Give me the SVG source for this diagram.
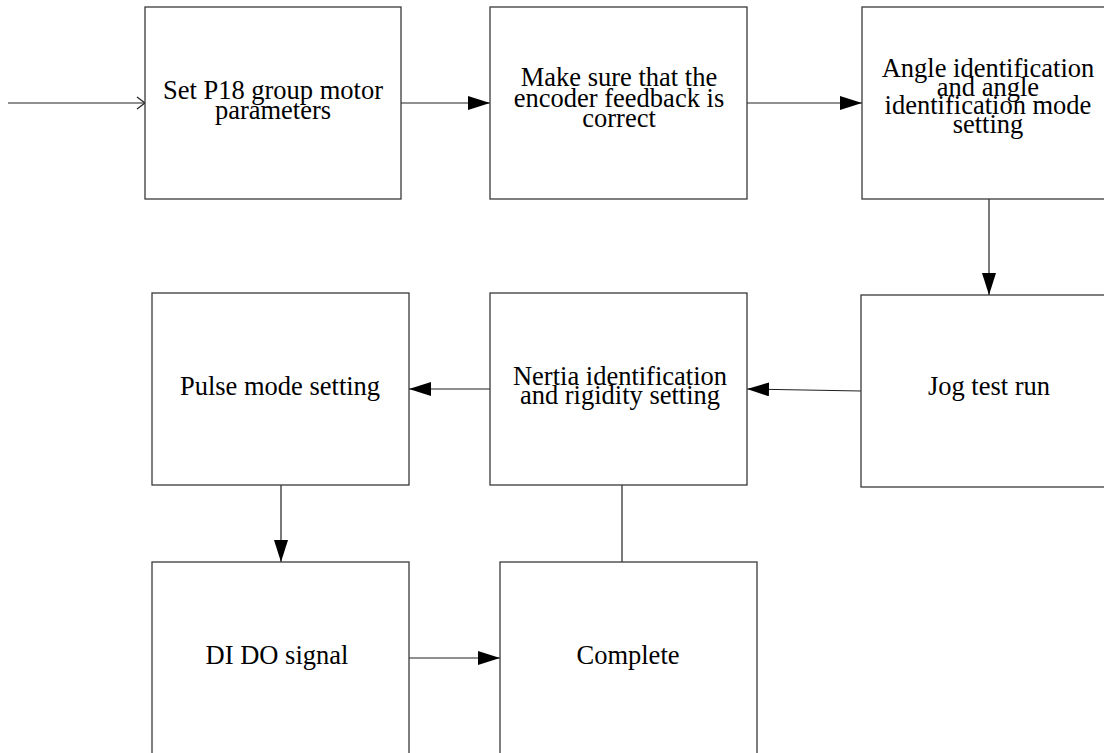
<svg xmlns="http://www.w3.org/2000/svg" width="1104" height="753" viewBox="0 0 1104 753">
  <style>
    .box { fill: #ffffff; stroke: #3a3a3a; stroke-width: 1.3; }
    .lbl { font-family: "Liberation Serif", "Times New Roman", serif; font-size: 26.5px; fill: #000000; text-anchor: middle; }
    .wire { fill: none; stroke: #202020; stroke-width: 1.2; }
  </style>
  <defs>
    <marker id="arrow" viewBox="0 0 22 14" refX="22" refY="7" markerWidth="22" markerHeight="14" markerUnits="userSpaceOnUse" orient="auto">
      <path d="M0,0 L22,7 L0,14 Z" fill="#000000"/>
    </marker>
    <marker id="open" viewBox="0 0 10 14" refX="9" refY="7" markerWidth="10" markerHeight="14" markerUnits="userSpaceOnUse" orient="auto">
      <path d="M1,1 L9,7 L1,13" fill="none" stroke="#202020" stroke-width="1.2"/>
    </marker>
  </defs>

  <rect width="1104" height="753" fill="#ffffff"/>

  <g id="connectors">
    <line class="wire" x1="8" y1="103" x2="145" y2="103" marker-end="url(#open)"/>
    <line class="wire" x1="401" y1="103" x2="490" y2="103" marker-end="url(#arrow)"/>
    <line class="wire" x1="747" y1="103" x2="862" y2="103" marker-end="url(#arrow)"/>
    <line class="wire" x1="989" y1="199" x2="989" y2="295" marker-end="url(#arrow)"/>
    <line class="wire" x1="861" y1="391" x2="747" y2="389" marker-end="url(#arrow)"/>
    <line class="wire" x1="490" y1="389" x2="409" y2="389" marker-end="url(#arrow)"/>
    <line class="wire" x1="281" y1="485" x2="281" y2="562" marker-end="url(#arrow)"/>
    <line class="wire" x1="409" y1="658" x2="500" y2="658" marker-end="url(#arrow)"/>
    <line class="wire" x1="622" y1="485" x2="622" y2="562"/>
  </g>

  <g id="set-p18">
    <rect class="box" x="145" y="7" width="256" height="192"/>
    <text class="lbl" x="273" y="98.5">Set P18 group motor</text>
    <text class="lbl" x="273" y="118.5">parameters</text>
  </g>

  <g id="encoder-check">
    <rect class="box" x="490" y="7" width="257" height="192"/>
    <text class="lbl" x="619" y="86">Make sure that the</text>
    <text class="lbl" x="619" y="106.5">encoder feedback is</text>
    <text class="lbl" x="619" y="127">correct</text>
  </g>

  <g id="angle-identification">
    <rect class="box" x="862" y="7" width="256" height="192"/>
    <text class="lbl" x="988" y="77">Angle identification</text>
    <text class="lbl" x="988" y="95.5">and angle</text>
    <text class="lbl" x="988" y="114">identification mode</text>
    <text class="lbl" x="988" y="132.5">setting</text>
  </g>

  <g id="jog-test">
    <rect class="box" x="861" y="295" width="256" height="192"/>
    <text class="lbl" x="989" y="395">Jog test run</text>
  </g>

  <g id="inertia-rigidity">
    <rect class="box" x="490" y="293" width="257" height="192"/>
    <text class="lbl" x="620" y="384.5">Nertia identification</text>
    <text class="lbl" x="620" y="404">and rigidity setting</text>
  </g>

  <g id="pulse-mode">
    <rect class="box" x="152" y="293" width="257" height="192"/>
    <text class="lbl" x="280" y="395">Pulse mode setting</text>
  </g>

  <g id="di-do">
    <rect class="box" x="152" y="562" width="257" height="200"/>
    <text class="lbl" x="277" y="664">DI DO signal</text>
  </g>

  <g id="complete">
    <rect class="box" x="500" y="562" width="257" height="200"/>
    <text class="lbl" x="628" y="664">Complete</text>
  </g>
</svg>
